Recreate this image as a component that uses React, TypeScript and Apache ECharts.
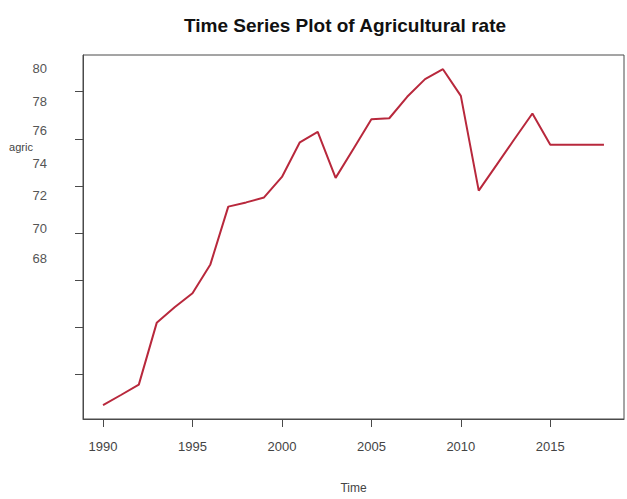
import React, { useEffect, useRef } from "react";
import * as echarts from "echarts";

const years = [
  1990, 1991, 1992, 1993, 1994, 1995, 1996, 1997, 1998, 1999, 2000, 2001, 2002, 2003, 2004,
  2005, 2006, 2007, 2008, 2009, 2010, 2011, 2012, 2013, 2014, 2015, 2016, 2017, 2018,
];
const agric = [
  64.7, 65.13, 65.57, 68.19, 68.85, 69.45, 70.67, 73.12, 73.3, 73.51, 74.38, 75.85, 76.29, 74.34, 75.58,
  76.83, 76.87, 77.78, 78.53, 78.95, 77.82, 73.8, 74.89, 75.99, 77.07, 75.75, 75.75, 75.75, 75.75,
];
const xTicks = [1990, 1995, 2000, 2005, 2010, 2015];
const yTicks = [66, 68, 70, 72, 74, 76, 78];
const yLabelTexts = ["80", "78", "76", "74", "72", "70", "68"];
const yLabelTops = [68, 101, 130, 163, 195, 228, 258];

export default function App() {
  const ref = useRef<HTMLDivElement>(null);
  useEffect(() => {
    if (!ref.current) return;
    const chart = echarts.init(ref.current, undefined, { renderer: "svg" });
    const font = "Liberation Sans, Arial, sans-serif";
    chart.setOption({
      animation: false,
      backgroundColor: "#ffffff",
      title: {
        text: "Time Series Plot of Agricultural rate",
        left: 340,
        textAlign: "center",
        top: 11,
        textStyle: { fontFamily: font, fontSize: 19, fontWeight: "bold", color: "#111111" },
      },
      grid: {
        left: 83,
        right: 3,
        top: 55,
        bottom: 76,
        show: true,
        borderColor: "#4a4a4a",
        borderWidth: 1,
        backgroundColor: "transparent",
      },
      xAxis: {
        type: "value",
        min: 1988.88,
        max: 2019.12,
        name: "Time",
        nameLocation: "middle",
        nameGap: 63,
        nameTextStyle: { fontFamily: font, fontSize: 12, color: "#444444" },
        axisLine: { show: true, onZero: false, lineStyle: { color: "#4a4a4a", width: 1 } },
        axisTick: { show: true, length: 8, customValues: xTicks, lineStyle: { color: "#4a4a4a" } },
        axisLabel: {
          customValues: xTicks,
          formatter: (v: number) => String(v),
          margin: 21,
          fontFamily: font,
          fontSize: 13,
          color: "#444444",
        },
        splitLine: { show: false },
      },
      yAxis: {
        type: "value",
        min: 64.112,
        max: 79.553,
        axisLine: { show: true, onZero: false, lineStyle: { color: "#4a4a4a", width: 1 } },
        axisTick: { show: true, length: 8, customValues: yTicks, lineStyle: { color: "#4a4a4a" } },
        axisLabel: { show: false },
        splitLine: { show: false },
      },
      graphic: [
        ...yLabelTexts.map((t, i) => ({
          type: "text",
          x: 47,
          y: yLabelTops[i],
          style: {
            text: t,
            textAlign: "right",
            textVerticalAlign: "middle",
            fontFamily: font,
            fontSize: 13,
            fill: "#555555",
          },
        })),
        {
          type: "text",
          x: 21,
          y: 147,
          style: {
            text: "agric",
            textAlign: "center",
            textVerticalAlign: "middle",
            fontFamily: font,
            fontSize: 11,
            fill: "#444444",
          },
        },
      ],
      series: [
        {
          type: "line",
          data: years.map((y, i) => [y, agric[i]]),
          showSymbol: false,
          lineStyle: { color: "#b8283c", width: 2 },
        },
      ],
    });
    return () => chart.dispose();
  }, []);
  return (
    <div
      ref={ref}
      style={{ position: "fixed", left: 0, top: 0, width: 627, height: 499 }}
    />
  );
}
